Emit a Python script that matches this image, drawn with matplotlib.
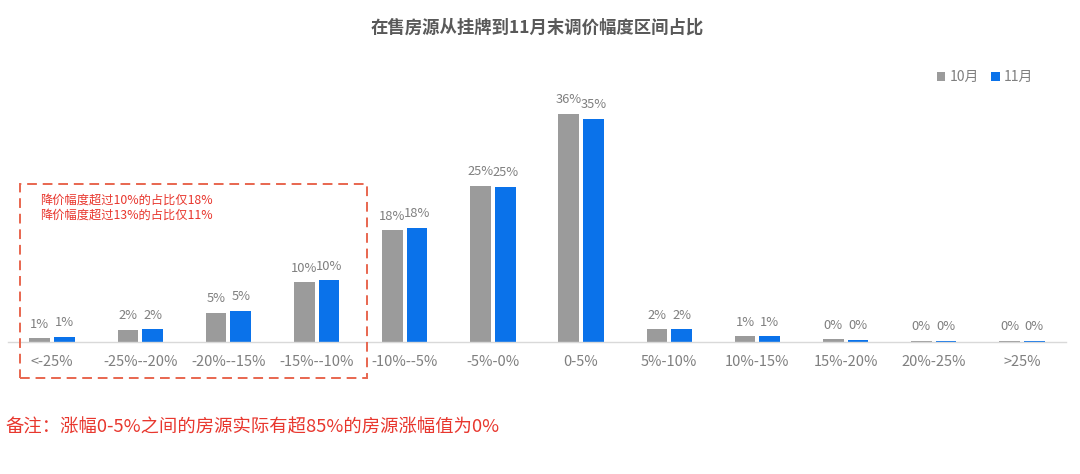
import matplotlib
matplotlib.use("Agg")
from matplotlib import pyplot as plt
from matplotlib.patches import Rectangle
import numpy as np

plt.rcParams['font.family'] = ['Noto Sans CJK SC', 'DejaVu Sans']

# categories and values (in %)
categories = ["<-25%", "-25%--20%", "-20%--15%", "-15%--10%", "-10%--5%", "-5%-0%",
              "0-5%", "5%-10%", "10%-15%", "15%-20%", "20%-25%", ">25%"]
oct_vals = [0.6, 1.9, 4.6, 9.4, 17.6, 24.6, 35.9, 2.0, 0.9, 0.4, 0.15, 0.15]
nov_vals = [0.8, 2.0, 4.9, 9.7, 18.0, 24.4, 35.1, 2.0, 0.9, 0.35, 0.15, 0.15]
oct_labels = ["1%", "2%", "5%", "10%", "18%", "25%", "36%", "2%", "1%", "0%", "0%", "0%"]
nov_labels = ["1%", "2%", "5%", "10%", "18%", "25%", "35%", "2%", "1%", "0%", "0%", "0%"]
series_names = ["10月", "11月"]

title = "在售房源从挂牌到11月末调价幅度区间占比"
box_notes = ["降价幅度超过10%的占比仅18%", "降价幅度超过13%的占比仅11%"]
footnote = "备注：涨幅0-5%之间的房源实际有超85%的房源涨幅值为0%"

gray = '#9b9b9b'
blue = '#0a72ea'
label_color = '#7f7f7f'
red = '#e8372e'

W, H = 1080, 474
fig = plt.figure(figsize=(W / 100, H / 100), dpi=100)
ax = fig.add_axes([8 / W, 132 / H, 1058 / W, 254 / H])

x = np.arange(len(categories))
bw = 0.235
off = 0.14
b1 = ax.bar(x - off, oct_vals, bw, color=gray, label=series_names[0])
b2 = ax.bar(x + off, nov_vals, bw, color=blue, label=series_names[1])

for bars, labs in [(b1, oct_labels), (b2, nov_labels)]:
    for r, t in zip(bars, labs):
        ax.annotate(t, (r.get_x() + r.get_width() / 2, r.get_height()),
                    xytext=(0, 5.5), textcoords='offset points',
                    ha='center', va='bottom', fontsize=9.3, color=label_color)

ax.set_xlim(-0.5, len(categories) - 0.5)
ax.set_ylim(0, 40)
ax.set_xticks(x)
ax.set_xticklabels(categories, fontsize=10.5, color=label_color)
ax.tick_params(axis='x', length=0, pad=9)
ax.set_yticks([])
for s in ['top', 'left', 'right']:
    ax.spines[s].set_visible(False)
ax.spines['bottom'].set_color('#d9d9d9')
ax.spines['bottom'].set_linewidth(1)

fig.text(537 / W, 1 - 28 / H, title, ha='center', va='center',
         fontsize=12.5, fontweight='bold', color='#595959')

fig.legend(handles=[b1, b2], labels=series_names, loc='center',
           bbox_to_anchor=(985 / W, 1 - 77 / H), ncol=2, frameon=False,
           handlelength=0.6, handleheight=0.6, handletextpad=0.3,
           columnspacing=0.9, fontsize=10, labelcolor=label_color)

# dashed highlight box
fig.patches.append(Rectangle((20 / W, 1 - 378 / H), 347 / W, 194 / H,
                             transform=fig.transFigure, fill=False,
                             edgecolor='#e8664f', linewidth=1.4,
                             linestyle=(0, (5, 3))))
for i, t in enumerate(box_notes):
    fig.text(40 / W, 1 - (200 + 15 * i) / H, t, ha='left', va='center',
             fontsize=8.8, color=red)

fig.text(5 / W, 1 - 428 / H, footnote, ha='left', va='center',
         fontsize=13.2, color=red)

fig.savefig("out.png", dpi=100, facecolor='white')
